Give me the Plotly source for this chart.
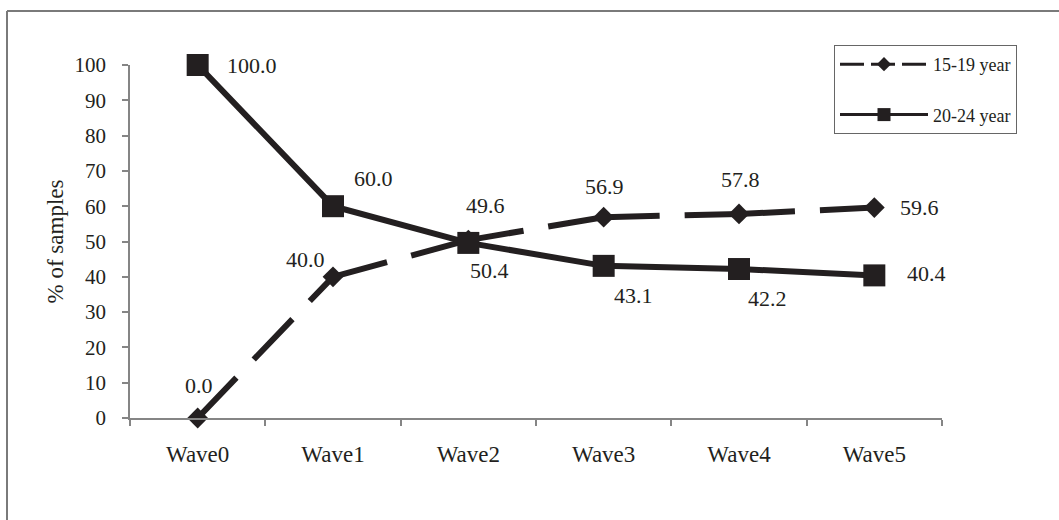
import plotly.graph_objects as go

# ---- data ----
waves = ["Wave0", "Wave1", "Wave2", "Wave3", "Wave4", "Wave5"]
teen_15_19 = [0.0, 40.0, 50.4, 56.9, 57.8, 59.6]
young_20_24 = [100.0, 60.0, 49.6, 43.1, 42.2, 40.4]
series_names = ["15-19 year", "20-24 year"]
y_ticks = [0, 10, 20, 30, 40, 50, 60, 70, 80, 90, 100]

# ---- style ----
INK = "#231f20"
AXIS = "#858585"
FONT = "Liberation Serif, Times New Roman, serif"
DASH = "56px,25px"

# label offsets (px) for each point: (xshift, yshift)
off_15_19 = [(1, 33), (-28, 17), (21, -30), (1, 31), (1, 34), (45, 0)]
off_20_24 = [(54, 0), (40, 28), (17, 37), (30, -30), (28, -29), (52, 2)]

fig = go.Figure()

# 15-19: dashed segments (pattern restarts at each point like the original)
for i in range(len(waves) - 1):
    fig.add_trace(go.Scatter(
        x=waves[i:i + 2], y=teen_15_19[i:i + 2], mode="lines",
        line=dict(color=INK, width=6, dash=DASH),
        showlegend=False, hoverinfo="skip", cliponaxis=False))
fig.add_trace(go.Scatter(
    x=waves, y=teen_15_19, mode="markers", name=series_names[0],
    marker=dict(symbol="diamond", size=16, color=INK),
    showlegend=False, cliponaxis=False))
# legend proxy for 15-19
fig.add_trace(go.Scatter(
    x=[None], y=[None], mode="lines+markers", name=series_names[0],
    line=dict(color=INK, width=3, dash="24px,7px"),
    marker=dict(symbol="diamond", size=11, color=INK),
    legendgroup="a"))

# 20-24: solid line
fig.add_trace(go.Scatter(
    x=waves, y=young_20_24, mode="lines+markers", name=series_names[1],
    line=dict(color=INK, width=6),
    marker=dict(symbol="square", size=22, color=INK),
    showlegend=False, cliponaxis=False))
fig.add_trace(go.Scatter(
    x=[None], y=[None], mode="lines+markers", name=series_names[1],
    line=dict(color=INK, width=3),
    marker=dict(symbol="square", size=13, color=INK),
    legendgroup="b"))

# data labels
for vals, offs in ((teen_15_19, off_15_19), (young_20_24, off_20_24)):
    for w, v, (dx, dy) in zip(waves, vals, offs):
        fig.add_annotation(x=w, y=v, text=f"{v:.1f}", showarrow=False,
                           xshift=dx, yshift=dy,
                           font=dict(family=FONT, size=22, color=INK))

# outer frame (top and left edges visible)
L, T = 130, 65
PW, PH = 812, 353
def px2paper_x(px):
    return (px - L) / PW
def px2paper_y(py):
    return (T + PH - py) / PH

fig.add_shape(type="line", xref="paper", yref="paper",
              x0=px2paper_x(7), x1=px2paper_x(1070),
              y0=px2paper_y(11), y1=px2paper_y(11),
              line=dict(color="#7a7a7a", width=2))
fig.add_shape(type="line", xref="paper", yref="paper",
              x0=px2paper_x(7), x1=px2paper_x(7),
              y0=px2paper_y(11), y1=px2paper_y(530),
              line=dict(color="#7a7a7a", width=2))

fig.update_layout(
    width=1059, height=520, autosize=False,
    margin=dict(l=L, r=1059 - L - PW, t=T, b=520 - T - PH),
    paper_bgcolor="white", plot_bgcolor="white",
    font=dict(family=FONT, color=INK),
    legend=dict(
        x=px2paper_x(834), y=px2paper_y(45), xanchor="left", yanchor="top",
        bordercolor="#666666", borderwidth=1, bgcolor="white",
        font=dict(family=FONT, size=18, color=INK),
        tracegroupgap=24, itemwidth=88,
    ),
    xaxis=dict(
        type="category", range=[-0.5, 5.5],
        showgrid=False, zeroline=False,
        showline=True, linecolor=AXIS, linewidth=1.5,
        ticks="outside", tickson="boundaries", ticklen=6,
        tickcolor=AXIS, tickwidth=1.5,
        tickfont=dict(family=FONT, size=23, color=INK),
        ticklabelstandoff=15,
    ),
    yaxis=dict(
        range=[0, 100], tickvals=y_ticks,
        showgrid=False, zeroline=False,
        showline=True, linecolor=AXIS, linewidth=1.5,
        ticks="outside", ticklen=6, tickcolor=AXIS, tickwidth=1.5,
        tickfont=dict(family=FONT, size=21, color=INK),
        ticklabelstandoff=12,
        title=dict(text="% of samples", standoff=4,
                   font=dict(family=FONT, size=23, color=INK)),
    ),
)

fig.write_html("out.html", config={"displayModeBar": False},
               post_script="document.body.style.margin='0';")
